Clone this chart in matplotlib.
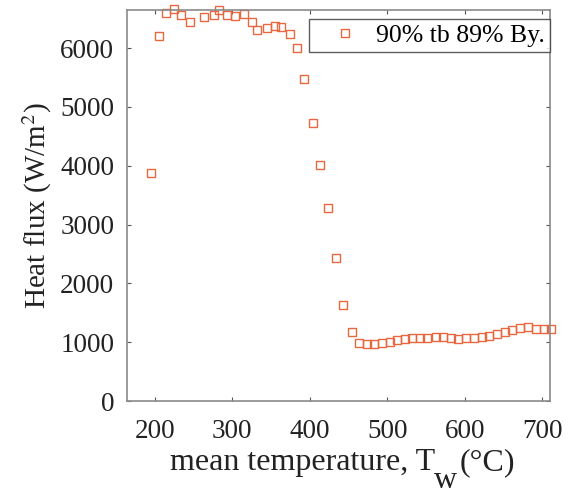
#!/usr/bin/env python3
"""Heat flux vs mean wall temperature, 90% tb 89% By."""

import matplotlib
matplotlib.use("Agg")
import matplotlib.pyplot as plt

temperature = [
    195, 205, 215, 225, 234, 245, 263, 276, 283, 293, 303, 315, 325, 332,
    345, 355, 363, 375, 384, 392, 404, 413, 423, 434, 443, 454, 463, 474,
    483, 493, 503, 513, 523, 532, 542, 551, 563, 572, 583, 592, 602, 612,
    622, 631, 642, 652, 661, 672, 682, 692, 702, 711,
]
heat_flux = [
    3880, 6210, 6600, 6660, 6565, 6450, 6525, 6565, 6640, 6570, 6540, 6575,
    6445, 6310, 6340, 6380, 6360, 6240, 6000, 5475, 4730, 4020, 3280, 2430,
    1630, 1170, 990, 975, 975, 980, 997, 1037, 1060, 1066, 1066, 1066, 1083,
    1083, 1066, 1060, 1066, 1077, 1083, 1100, 1134, 1168, 1207, 1236, 1253,
    1230, 1219, 1219,
]
series_label = "90% tb 89% By."

plt.rcParams["font.family"] = ["Liberation Serif", "DejaVu Serif"]
plt.rcParams["mathtext.fontset"] = "stix"
text_color = "#222222"

fig = plt.figure(figsize=(5.74, 4.94), dpi=100)
ax = fig.add_axes([0.221, 0.188, 0.737, 0.792])

ax.plot(temperature, heat_flux, linestyle="none", marker="s", markersize=6.2,
        markerfacecolor="none", markeredgecolor="#E8673F", markeredgewidth=1.0,
        clip_on=False, label=series_label)

ax.set_xlim(164, 710)
ax.set_ylim(0, 6650)
ax.set_xticks([200, 300, 400, 500, 600, 700])
ax.set_yticks([0, 1000, 2000, 3000, 4000, 5000, 6000])
ax.tick_params(direction="in", top=True, right=True, labelsize=19.5,
               length=3, color="#555555", labelcolor=text_color)
ax.tick_params(axis="y", pad=9)
ax.tick_params(axis="x", pad=13)
for spine in ax.spines.values():
    spine.set_color("#8a8a8a")
    spine.set_linewidth(1.2)

ax.set_ylabel(r"Heat flux (W/m$^2$)", fontsize=21, color=text_color)
ax.yaxis.set_label_coords(-0.173, 0.5)

# x label with a full-size, lowered "w" subscript as in the original
t1 = fig.text(170 / 574, 24 / 494, "mean temperature, T", fontsize=23,
              color=text_color, ha="left", va="baseline")
t2 = ax.annotate("w", xy=(1, 0), xycoords=t1, xytext=(-1, -13),
                 textcoords="offset points", fontsize=23, color=text_color,
                 ha="left", va="bottom", annotation_clip=False)
t3 = ax.annotate("(°C)", xy=(1, 0), xycoords=(t2, t1), xytext=(2, 0),
                 textcoords="offset points", fontsize=23, color=text_color,
                 ha="left", va="bottom", annotation_clip=False)

leg = ax.legend(loc="upper right", bbox_to_anchor=(1.0, 1 - 9 / 392),
                fontsize=18.5, frameon=True, fancybox=False, borderaxespad=0,
                borderpad=0.2, handlelength=2.4, handletextpad=0.0)
leg.get_frame().set_edgecolor("#333333")
leg.get_frame().set_linewidth(1.0)

fig.savefig("out.png", dpi=100)
